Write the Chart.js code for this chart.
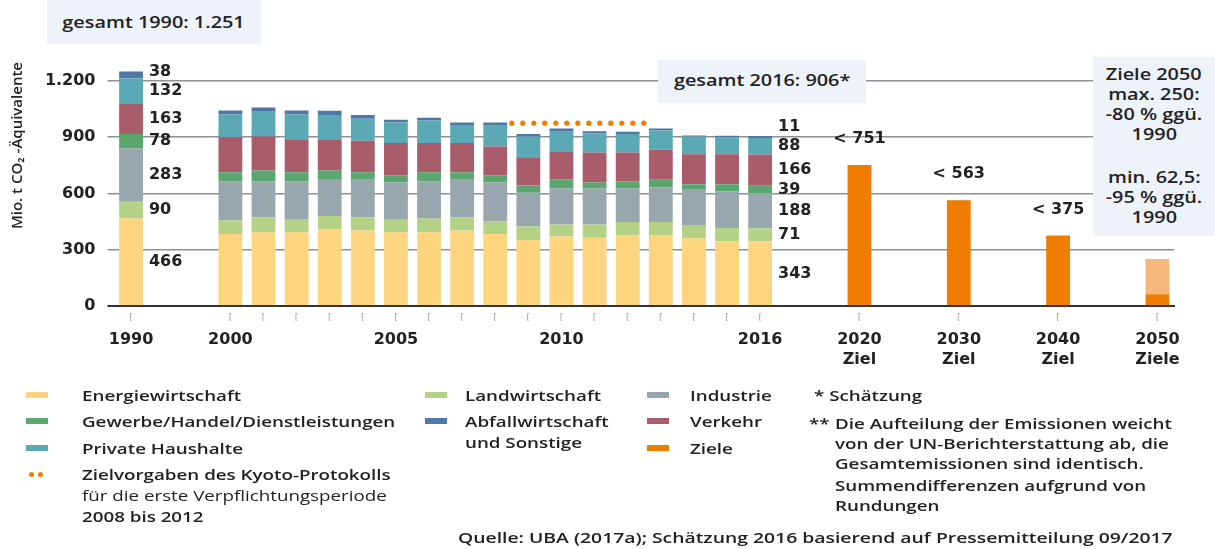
<!DOCTYPE html>
<html><head><meta charset="utf-8">
<script src="https://cdn.jsdelivr.net/npm/chart.js@4.4.1/dist/chart.umd.min.js"></script>
<style>
html,body{margin:0;padding:0;background:#fff;}
#wrap{position:relative;width:1215px;height:549px;overflow:hidden;font-family:"Open Sans",sans-serif;color:#222;}
#c{position:absolute;left:0;top:0;}
.box{position:absolute;background:#EEF3F9;}
.t{position:absolute;white-space:nowrap;font-weight:600;font-size:15px;line-height:20px;transform-origin:0 50%;transform:scaleX(1.25);}
.c{position:absolute;white-space:nowrap;font-weight:600;font-size:16px;line-height:20px;text-align:center;}
.c span{display:inline-block;transform:scaleX(1.24);}
.sw{position:absolute;width:22px;height:6px;}
.dot{position:absolute;width:5px;height:5px;border-radius:50%;background:#EE7D00;}
</style></head>
<body><div id="wrap">
<canvas id="c" width="1215" height="549"></canvas>

<div class="box" style="left:47px;top:0;width:214px;height:44px;"></div>
<div class="c" style="left:47px;top:12px;width:214px;"><span>gesamt 1990: 1.251</span></div>
<div class="box" style="left:658px;top:60px;width:208px;height:43px;"></div>
<div class="c" style="left:658px;top:70px;width:208px;"><span>gesamt 2016: 906*</span></div>
<div class="box" style="left:1093px;top:57px;width:122px;height:179px;"></div>
<div class="c" style="left:1093px;top:64px;width:122px;"><span>Ziele 2050</span><br><span>max. 250:</span><br><span>-80 % ggü.</span><br><span>1990</span></div>
<div class="c" style="left:1093px;top:167px;width:122px;"><span>min. 62,5:</span><br><span>-95 % ggü.</span><br><span>1990</span></div>

<div class="sw" style="left:26px;top:392px;background:#FDD57E"></div>
<div class="t" style="left:82px;top:385px;">Energiewirtschaft</div>
<div class="sw" style="left:26px;top:418px;background:#5BA56F"></div>
<div class="t" style="left:82px;top:411px;">Gewerbe/Handel/Dienstleistungen</div>
<div class="sw" style="left:26px;top:445px;background:#5CA9B6"></div>
<div class="t" style="left:82px;top:438px;">Private Haushalte</div>
<div class="dot" style="left:29px;top:472px;"></div><div class="dot" style="left:38px;top:472px;"></div>
<div class="t" style="left:82px;top:464px;">Zielvorgaben des Kyoto-Protokolls</div>
<div class="t" style="left:82px;top:485px;font-weight:500;">für die erste Verpflichtungsperiode</div>
<div class="t" style="left:82px;top:506px;">2008 bis 2012</div>

<div class="sw" style="left:425px;top:392px;background:#B4D286"></div>
<div class="t" style="left:465px;top:385px;">Landwirtschaft</div>
<div class="sw" style="left:425px;top:418px;background:#4E78A8"></div>
<div class="t" style="left:465px;top:411px;">Abfallwirtschaft</div>
<div class="t" style="left:465px;top:432px;">und Sonstige</div>

<div class="sw" style="left:647px;top:392px;background:#98A6AE"></div>
<div class="t" style="left:690px;top:385px;">Industrie</div>
<div class="sw" style="left:647px;top:418px;background:#A95D6B"></div>
<div class="t" style="left:690px;top:411px;">Verkehr</div>
<div class="sw" style="left:647px;top:445px;background:#EE7D00"></div>
<div class="t" style="left:690px;top:438px;">Ziele</div>

<div class="t" style="left:814px;top:385px;">* Schätzung</div>
<div class="t" style="left:809px;top:413px;">**</div>
<div class="t" style="left:835px;top:413px;">Die Aufteilung der Emissionen weicht</div>
<div class="t" style="left:835px;top:433px;">von der UN-Berichterstattung ab, die</div>
<div class="t" style="left:835px;top:453px;">Gesamtemissionen sind identisch.</div>
<div class="t" style="left:835px;top:475px;">Summendifferenzen aufgrund von</div>
<div class="t" style="left:835px;top:495px;">Rundungen</div>

<div class="t" style="left:458px;top:527px;transform:scaleX(1.29);">Quelle: UBA (2017a); Schätzung 2016 basierend auf Pressemitteilung 09/2017</div>
</div>
<script>
// ---- data ----
const categories = ['1990','','','2000','2001','2002','2003','2004','2005','2006','2007','2008','2009','2010','2011','2012','2013','2014','2015','2016','','','2020','','','2030','','','2040','','','2050'];
const years = ['1990','2000','2001','2002','2003','2004','2005','2006','2007','2008','2009','2010','2011','2012','2013','2014','2015','2016'];
const energiewirtschaft = [466,384,393,393,409,402,393,393,402,384,352,370,363,377,377,361,345,343];
const landwirtschaft    = [90, 71, 80, 71, 71, 71, 71, 73, 71, 66, 73, 64, 71, 71, 71, 71, 71, 71];
const industrie         = [283,210,192,201,196,199,194,199,199,208,178,192,192,178,185,187,194,188];
const gewerbe           = [78, 48, 57, 48, 46, 41, 39, 48, 41, 39, 39, 48, 32, 39, 39, 30, 39, 39];
const verkehr           = [163,187,181,176,167,167,171,155,155,153,151,151,160,153,160,160,160,166];
const haushalte         = [132,120,132,131,124,117,110,120,97, 114,110,107,103,98, 103,94, 89, 88];
const abfall            = [38, 22, 23, 22, 27, 20, 14, 15, 13, 14, 13, 14, 10, 12, 11, 5,  9,  11];
const zielYears = ['2020','2030','2040','2050'];
const zielMin = [751,563,375,62.5];
const zielMax = [null,null,null,250];
const zielLabelYears = ['2020','2030','2040'];
const labelYears = ['1990','2016'];
const kyotoValue = 974;
const kyotoFrom = '2008', kyotoTo = '2012';
const yTicks = [0,300,600,900,1200];
const shownTicks = ['1990','2000','2005','2010','2016','2020','2030','2040','2050'];
const tickSub = {'2020':'Ziel','2030':'Ziel','2040':'Ziel','2050':'Ziele'};

const colors = {
  energie:'#FDD57E', land:'#B4D286', ind:'#98A6AE', gew:'#5BA56F',
  verk:'#A95D6B', haus:'#5CA9B6', abf:'#4E78A8', ziel:'#EE7D00', zielLight:'#F6B77A'
};

function place(keys, vals){
  const out = categories.map(()=>null);
  keys.forEach((k,i)=>{ const idx = categories.indexOf(k); if(idx>=0) out[idx]=vals[i]; });
  return out;
}
const sectorSets = [
  ['Energiewirtschaft', energiewirtschaft, colors.energie],
  ['Landwirtschaft', landwirtschaft, colors.land],
  ['Industrie', industrie, colors.ind],
  ['Gewerbe/Handel/Dienstleistungen', gewerbe, colors.gew],
  ['Verkehr', verkehr, colors.verk],
  ['Private Haushalte', haushalte, colors.haus],
  ['Abfallwirtschaft und Sonstige', abfall, colors.abf]
];
const datasets = sectorSets.map(([label, vals, col]) => ({
  label, data: place(years, vals), backgroundColor: col
}));
datasets.push({label:'Ziele', data: place(zielYears, zielMin), backgroundColor: colors.ziel});
datasets.push({label:'Ziele max', data: place(zielYears, zielMax.map((v,i)=> v==null?null:v - zielMin[i])), backgroundColor: colors.zielLight});

const numFont = 'bold 16px "DejaVu Sans"';
const fmt = v => String(v).replace(/\B(?=(\d{3})+(?!\d))/g, '.');

const annot = {
  id:'annot',
  afterDatasetsDraw(chart){
    const ctx = chart.ctx, x = chart.scales.x, y = chart.scales.y;
    ctx.save();
    // small tick marks
    ctx.fillStyle = '#9aa3a8';
    ctx.font = '9px "DejaVu Sans"';
    ctx.textAlign = 'center'; ctx.textBaseline = 'middle';
    categories.forEach((c,i)=>{ if(c!=='') ctx.fillText('[', x.getPixelForValue(i), chart.chartArea.bottom + 12); });
    // value labels for 1990 / 2016
    ctx.font = numFont; ctx.fillStyle = '#222'; ctx.textAlign = 'left';
    labelYears.forEach(yr=>{
      const yi = years.indexOf(yr), ci = categories.indexOf(yr);
      const meta0 = chart.getDatasetMeta(0).data[ci];
      const right = meta0.x + meta0.width/2 + 6;
      let cum = 0, prevY = Infinity;
      sectorSets.forEach(([l, vals])=>{
        const v = vals[yi];
        let py = y.getPixelForValue(cum + v/2);
        if (prevY - py < 19) py = prevY - 19;
        ctx.fillText(String(v), right, py);
        prevY = py; cum += v;
      });
    });
    // target labels
    ctx.textAlign = 'center';
    zielLabelYears.forEach(yr=>{
      const i = zielYears.indexOf(yr), ci = categories.indexOf(yr);
      ctx.fillText('< ' + zielMin[i], x.getPixelForValue(ci), y.getPixelForValue(zielMin[i]) - 26);
    });
    // Kyoto dots
    const a = categories.indexOf(kyotoFrom), b = categories.indexOf(kyotoTo);
    const x0 = (x.getPixelForValue(a) + x.getPixelForValue(a+1))/2;
    const x1 = (x.getPixelForValue(b) + x.getPixelForValue(b+1))/2;
    const yy = y.getPixelForValue(kyotoValue);
    ctx.fillStyle = colors.ziel;
    for (let px = x0; px <= x1 + 0.5; px += 11) { ctx.beginPath(); ctx.arc(px, yy, 2.6, 0, Math.PI*2); ctx.fill(); }
    ctx.restore();
  }
};

new Chart(document.getElementById('c'), {
  type:'bar',
  data:{labels:categories, datasets},
  plugins:[annot],
  options:{
    responsive:false, animation:false,
    layout:{padding:{top:62,right:41,left:0,bottom:0}},
    datasets:{bar:{barPercentage:0.72, categoryPercentage:1, borderWidth:0}},
    plugins:{legend:{display:false}, tooltip:{enabled:false}},
    scales:{
      x:{
        stacked:true,
        grid:{display:false, drawTicks:false},
        border:{display:true, color:'#333', width:2},
        ticks:{
          autoSkip:false, maxRotation:0, padding:24, color:'#222',
          font:{family:'DejaVu Sans', size:16, weight:'bold', lineHeight:1.25},
          callback:(v,i)=>{ const c = categories[i]; if(!shownTicks.includes(c)) return ''; return tickSub[c] ? [c, tickSub[c]] : c; }
        },
        afterFit:s=>{ s.height = 243; }
      },
      y:{
        stacked:true, min:0, max:1300,
        afterBuildTicks:s=>{ s.ticks = yTicks.map(v=>({value:v})); },
        grid:{color:c=> c.tick && c.tick.value===0 ? '#333' : '#8b9194', lineWidth:c=> c.tick && c.tick.value===0 ? 2 : 1.5, tickLength:7},
        border:{display:false},
        ticks:{padding:12, color:'#222', font:{family:'DejaVu Sans', size:16, weight:'bold'}, callback:v=>fmt(v)},
        title:{display:true, text:'Mio. t CO₂ -Äquivalente', align:'end', color:'#222', font:{family:'Open Sans', size:15, weight:'600'}, padding:{top:9,bottom:0}},
        afterFit:s=>{ s.width = 114.5; }
      }
    }
  }
});
</script>
</body></html>
